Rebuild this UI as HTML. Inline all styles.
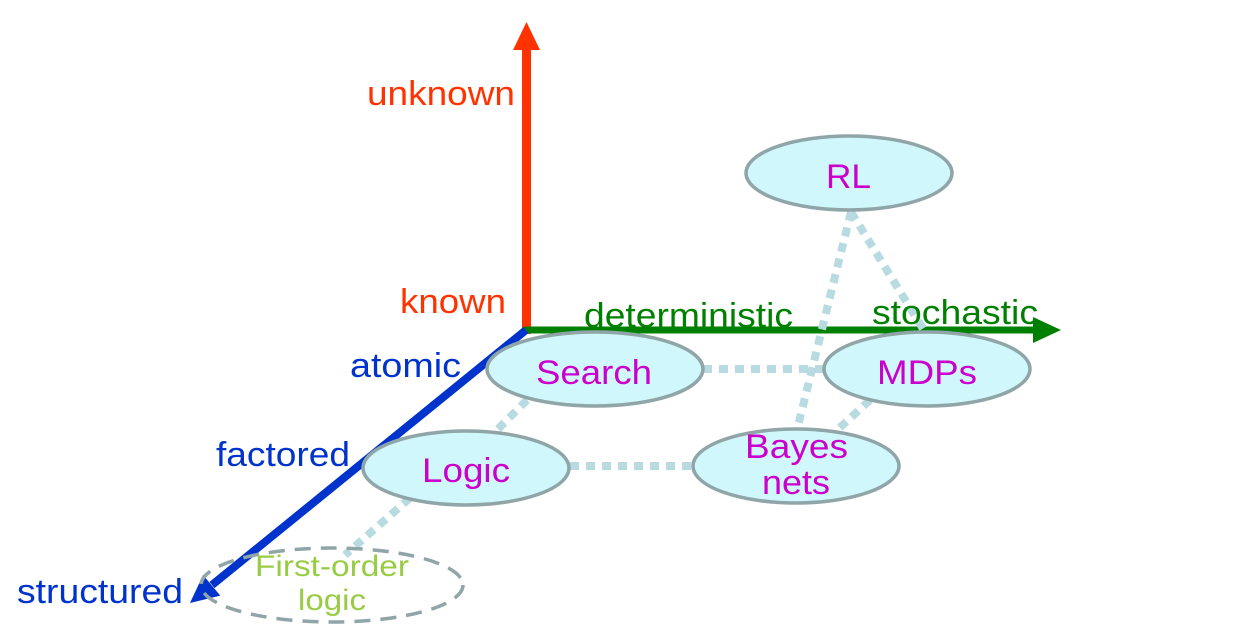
<!DOCTYPE html>
<html><head><meta charset="utf-8"><style>
html,body{margin:0;padding:0;background:#fff;}
svg{display:block;}
text{font-family:"Liberation Sans",Arial,sans-serif;}
</style></head><body>
<svg width="1246" height="643" viewBox="0 0 1246 643" xmlns="http://www.w3.org/2000/svg">
<line x1="526.5" y1="334" x2="526.5" y2="46" stroke="#ff3300" stroke-width="9"/>
<polygon points="526.5,22 513,50 540,50" fill="#ff3300"/>
<line x1="524" y1="330" x2="1036" y2="330" stroke="#008000" stroke-width="7"/>
<polygon points="1061,330 1033,317 1033,343" fill="#008000"/>
<line x1="526" y1="330" x2="212" y2="585" stroke="#0033cc" stroke-width="8"/>
<polygon points="190,603 220.3,595.6 203.1,575" fill="#0033cc"/>
<g stroke="#b7dbe0" stroke-width="8" stroke-dasharray="9 7" fill="none">
<line x1="703" y1="369" x2="824" y2="369"/>
<line x1="570" y1="466" x2="693" y2="466"/>
<line x1="851" y1="212" x2="797" y2="430"/>
<line x1="851" y1="212" x2="925" y2="332"/>
<line x1="870" y1="400" x2="835" y2="432"/>
<line x1="527" y1="400" x2="495" y2="432"/>
<line x1="410" y1="498" x2="345" y2="555"/>
</g>
<g fill="#d0f7fb" stroke="#8fa5a8" stroke-width="3.5">
<ellipse cx="595" cy="369" rx="108" ry="37"/>
<ellipse cx="466" cy="468" rx="103" ry="37"/>
<ellipse cx="849" cy="173" rx="103" ry="37"/>
<ellipse cx="927" cy="369" rx="103" ry="37"/>
<ellipse cx="796" cy="466" rx="103" ry="37"/>
</g>
<ellipse cx="332" cy="585" rx="131" ry="37" fill="none" stroke="#8fa5a8" stroke-width="3.5" stroke-dasharray="16 10"/>
<g font-size="34" lengthAdjust="spacingAndGlyphs">
<text x="367" y="105" fill="#ff3300" textLength="148" lengthAdjust="spacingAndGlyphs">unknown</text>
<text x="400" y="313" fill="#ff3300" textLength="106" lengthAdjust="spacingAndGlyphs">known</text>
<text x="584" y="327" fill="#008000" textLength="209" lengthAdjust="spacingAndGlyphs">deterministic</text>
<text x="872" y="324" fill="#008000" textLength="166" lengthAdjust="spacingAndGlyphs">stochastic</text>
<text x="350" y="377" fill="#0033cc" textLength="111" lengthAdjust="spacingAndGlyphs">atomic</text>
<text x="216" y="466" fill="#0033cc" textLength="134" lengthAdjust="spacingAndGlyphs">factored</text>
<text x="17" y="603" fill="#0033cc" textLength="166" lengthAdjust="spacingAndGlyphs">structured</text>
</g>
<g font-size="34" fill="#cc00cc">
<text x="536" y="384" textLength="116" lengthAdjust="spacingAndGlyphs">Search</text>
<text x="422" y="482" textLength="88" lengthAdjust="spacingAndGlyphs">Logic</text>
<text x="826" y="188" textLength="45" lengthAdjust="spacingAndGlyphs">RL</text>
<text x="877" y="384" textLength="100" lengthAdjust="spacingAndGlyphs">MDPs</text>
<text x="745" y="458" textLength="103" lengthAdjust="spacingAndGlyphs">Bayes</text>
<text x="762" y="494" textLength="68" lengthAdjust="spacingAndGlyphs">nets</text>
</g>
<g font-size="30" fill="#99cc44">
<text x="255" y="576" textLength="154" lengthAdjust="spacingAndGlyphs">First-order</text>
<text x="298" y="610" textLength="68" lengthAdjust="spacingAndGlyphs">logic</text>
</g>
</svg>
</body></html>
